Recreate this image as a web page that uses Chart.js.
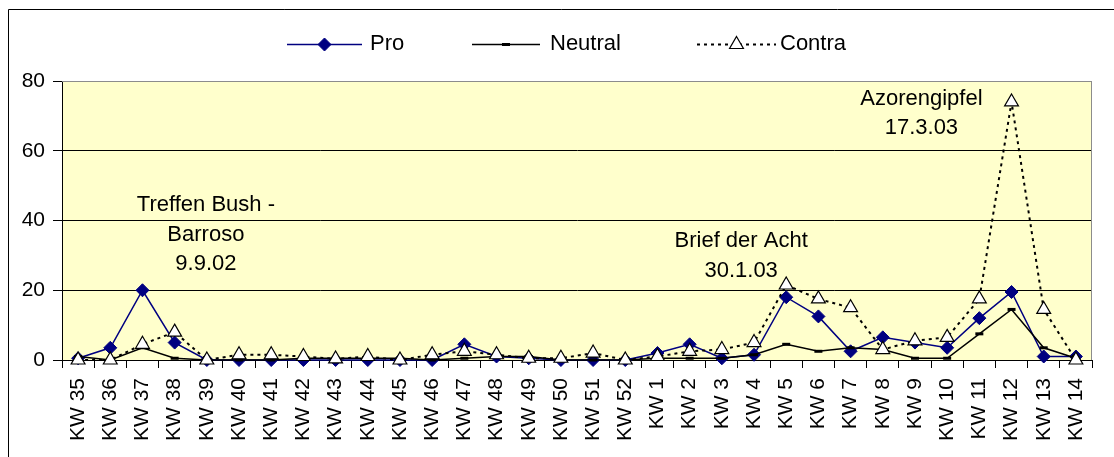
<!DOCTYPE html>
<html>
<head>
<meta charset="utf-8">
<script src="https://cdn.jsdelivr.net/npm/chart.js@4.4.0/dist/chart.umd.min.js"></script>
<style>
  html, body { margin: 0; padding: 0; background: #fff; }
  canvas { display: block; }
</style>
</head>
<body>
<canvas id="chart" width="1114" height="457"></canvas>
<script>
const weeks = [
  "KW 35", "KW 36", "KW 37", "KW 38", "KW 39", "KW 40", "KW 41", "KW 42",
  "KW 43", "KW 44", "KW 45", "KW 46", "KW 47", "KW 48", "KW 49", "KW 50",
  "KW 51", "KW 52", "KW 1", "KW 2", "KW 3", "KW 4", "KW 5", "KW 6",
  "KW 7", "KW 8", "KW 9", "KW 10", "KW 11", "KW 12", "KW 13", "KW 14"
];
const proValues = [
  0.5, 3.5, 20, 5, 0, 0, 0, 0, 0, 0, 0, 0, 4.5, 1, 0.5, 0, 0, 0,
  2, 4.5, 0.5, 1.5, 18, 12.5, 2.5, 6.5, 5, 3.5, 12, 19.5, 1, 1
];
const neutralValues = [
  1, 0, 3.5, 0.5, 0, 0, 0, 0.5, 0.5, 0.5, 0.5, 0, 0.5, 1, 1, 0, 0, 0,
  0.5, 0.5, 0.5, 1.5, 4.5, 2.5, 3.5, 3, 0.5, 0.5, 7.5, 14.5, 3.5, 0.5
];
const contraValues = [
  0, 0, 4.5, 8, 0, 1.5, 1.5, 1, 0.3, 1, 0, 1.5, 2.5, 1.5, 0.5, 0.5, 2, 0,
  1, 2.5, 3, 5, 21.5, 17.5, 15, 3, 5.5, 6.5, 17.5, 74, 14.5, 0
];
const yTicks = [0, 20, 40, 60, 80];
const seriesNames = ["Pro", "Neutral", "Contra"];
const noteTexts = [
  ["Treffen Bush -", "Barroso", "9.9.02"],
  ["Brief der Acht", "30.1.03"],
  ["Azorengipfel", "17.3.03"]
];

const FONT = "'Liberation Sans', Arial, sans-serif";

// where each note sits: category index (fractional) and value of first line
const notePlaces = [
  { x: 3.97, y: 44.4 },
  { x: 20.6, y: 34.1 },
  { x: 26.2, y: 75.0 }
];

function drawMarker(ctx, ds, x, y) {
  ctx.save();
  ctx.fillStyle = ds.pointBackgroundColor;
  ctx.strokeStyle = ds.pointBorderColor;
  ctx.lineWidth = ds.pointBorderWidth;
  Chart.helpers.drawPoint(ctx, {
    pointStyle: ds.pointStyle,
    radius: ds.pointRadius,
    borderWidth: ds.pointBorderWidth,
    rotation: 0
  }, x, y);
  ctx.restore();
}

const framePlugin = {
  id: "frame",
  beforeDraw(chart) {
    const { ctx, chartArea: a } = chart;
    ctx.save();
    ctx.fillStyle = "#fff";
    ctx.fillRect(0, 0, chart.width, chart.height);
    ctx.strokeStyle = "#000";
    ctx.lineWidth = 1;
    ctx.beginPath();
    ctx.moveTo(8.5, chart.height);
    ctx.lineTo(8.5, 9.5);
    ctx.lineTo(chart.width, 9.5);
    ctx.stroke();
    ctx.fillStyle = "#ffffcc";
    ctx.fillRect(a.left, a.top, a.right - a.left, a.bottom - a.top);
    ctx.restore();
  },
  beforeDatasetsDraw(chart) {
    const { ctx, chartArea: a } = chart;
    ctx.save();
    ctx.strokeStyle = "#8c8c8c";
    ctx.lineWidth = 1;
    ctx.beginPath();
    ctx.moveTo(a.left, a.top + 0.5);
    ctx.lineTo(a.right - 0.5, a.top + 0.5);
    ctx.lineTo(a.right - 0.5, a.bottom);
    ctx.stroke();
    ctx.restore();
  },
  afterDatasetsDraw(chart) {
    const { ctx } = chart;
    const xs = chart.scales.x, ys = chart.scales.y;
    ctx.save();
    ctx.fillStyle = "#000";
    ctx.font = "22px " + FONT;
    ctx.textAlign = "center";
    ctx.textBaseline = "middle";
    noteTexts.forEach((lines, i) => {
      const px = xs.getPixelForValue(notePlaces[i].x);
      const py = ys.getPixelForValue(notePlaces[i].y);
      lines.forEach((t, k) => ctx.fillText(t, px, py + k * 29.5));
    });
    ctx.restore();
  },
  afterDraw(chart) {
    const { ctx } = chart;
    const y = 44;
    const items = [
      { x0: 287, x1: 362, text: 370 },
      { x0: 472, x1: 540, text: 550 },
      { x0: 697, x1: 776, text: 780 }
    ];
    ctx.save();
    chart.data.datasets.forEach((ds, i) => {
      const it = items[i];
      ctx.strokeStyle = ds.borderColor;
      ctx.lineWidth = ds.borderWidth;
      ctx.setLineDash(ds.borderDash || []);
      ctx.beginPath();
      ctx.moveTo(it.x0, y + 0.5);
      ctx.lineTo(it.x1, y + 0.5);
      ctx.stroke();
      ctx.setLineDash([]);
      drawMarker(ctx, ds, (it.x0 + it.x1) / 2, y + 0.5);
      ctx.fillStyle = "#000";
      ctx.font = "22px " + FONT;
      ctx.textBaseline = "middle";
      ctx.textAlign = "left";
      ctx.fillText(ds.label, it.text, y);
    });
    ctx.restore();
  }
};

const chart = new Chart(document.getElementById("chart"), {
  type: "line",
  data: {
    labels: weeks,
    datasets: [
      {
        label: seriesNames[0],
        data: proValues,
        borderColor: "#000080",
        borderWidth: 1.5,
        pointStyle: "rectRot",
        pointRadius: 6.5,
        pointBackgroundColor: "#000080",
        pointBorderColor: "#000080",
        pointBorderWidth: 1,
        order: 2
      },
      {
        label: seriesNames[1],
        data: neutralValues,
        borderColor: "#000",
        borderWidth: 1.5,
        pointStyle: "line",
        pointRadius: 4,
        pointBackgroundColor: "#000",
        pointBorderColor: "#000",
        pointBorderWidth: 3,
        order: 1
      },
      {
        label: seriesNames[2],
        data: contraValues,
        borderColor: "#000",
        borderWidth: 2,
        borderDash: [3, 4],
        pointStyle: "triangle",
        pointRadius: 8,
        pointBackgroundColor: "#fff",
        pointBorderColor: "#000",
        pointBorderWidth: 1.2,
        order: 0
      }
    ]
  },
  options: {
    responsive: false,
    animation: false,
    clip: false,
    layout: { padding: { top: 81, right: 22, bottom: 0, left: 0 } },
    plugins: { legend: { display: false }, tooltip: { enabled: false } },
    elements: { line: { tension: 0 } },
    scales: {
      x: {
        offset: true,
        grid: { offset: true, drawOnChartArea: false, color: "#000", tickLength: 8 },
        border: { color: "#000" },
        ticks: {
          minRotation: 90, maxRotation: 90, autoSkip: false,
          color: "#000", padding: 10,
          font: { family: FONT, size: 21 }
        },
        afterFit(scale) { scale.height = 97; }
      },
      y: {
        min: 0,
        max: 80,
        afterBuildTicks(scale) { scale.ticks = yTicks.map(v => ({ value: v })); },
        grid: {
          color: ctx => (ctx.tick && ctx.tick.value === 80 ? "#8c8c8c" : "#000"),
          tickColor: "#000",
          tickLength: 9
        },
        border: { color: "#000" },
        ticks: { color: "#000", padding: 8, font: { family: FONT, size: 21 } },
        afterFit(scale) { scale.width = 62; }
      }
    }
  },
  plugins: [framePlugin]
});
</script>
</body>
</html>
